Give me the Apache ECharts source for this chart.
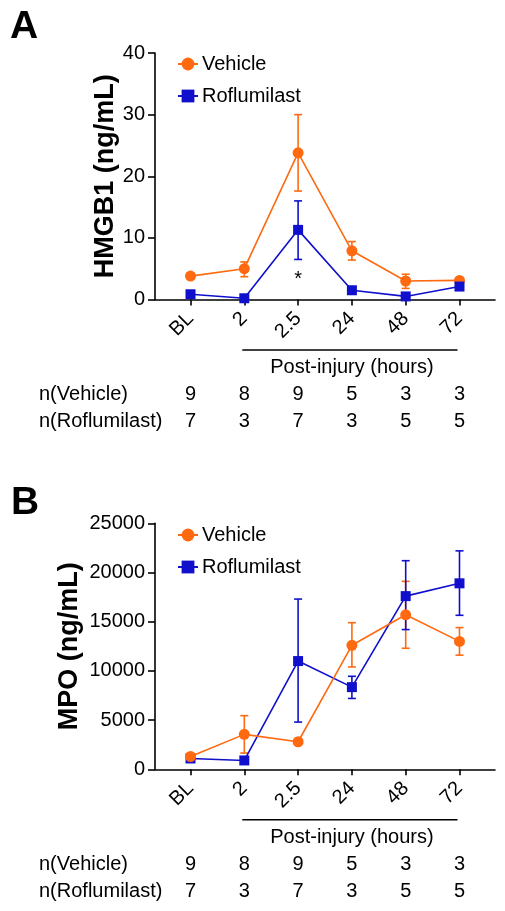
<!DOCTYPE html>
<html>
<head>
<meta charset="utf-8">
<script src="https://cdn.jsdelivr.net/npm/echarts@6/dist/echarts.min.js"></script>
<style>
  html, body { margin: 0; padding: 0; background: #fff; }
  #chart { width: 505px; height: 911px; }
</style>
</head>
<body>
<div id="chart"></div>
<script>
// time points and group sizes
var timepoints = ['BL', '2', '2.5', '24', '48', '72'];
var nVehicle = [9, 8, 9, 5, 3, 3];
var nRoflumilast = [7, 3, 7, 3, 5, 5];

// panel A - HMGB1 (ng/mL), mean and error bar ends
var hmgbVehicle = [3.8, 5.0, 23.8, 7.9, 3.0, 3.1];
var hmgbVehicleLo = [3.4, 3.7, 17.6, 6.4, 1.8, 2.8];
var hmgbVehicleHi = [4.2, 6.1, 30.0, 9.4, 4.1, 3.4];
var hmgbRof = [0.85, 0.2, 11.3, 1.5, 0.5, 2.1];
var hmgbRofLo = [0.55, 0.0, 6.5, 1.2, 0.2, 1.8];
var hmgbRofHi = [1.15, 0.4, 16.0, 1.8, 0.8, 2.4];
var hmgbSignificant = [2];

// panel B - MPO (ng/mL)
var mpoVehicle = [1300, 3550, 2800, 12600, 15700, 13000];
var mpoVehicleLo = [1100, 1650, 2500, 10400, 12300, 11600];
var mpoVehicleHi = [1500, 5450, 3100, 14900, 19100, 14400];
var mpoRof = [1100, 900, 11000, 8350, 17600, 18900];
var mpoRofLo = [900, 700, 4800, 7200, 14200, 15650];
var mpoRofHi = [1300, 1100, 17300, 9450, 21200, 22200];

var FONT = 'Liberation Sans, Arial, sans-serif';
var ORANGE = '#ff6a10';
var BLUE = '#1010cc';
var tickIdx = timepoints.map(function (t, i) { return i; });

function pts(arr) {
    return arr.map(function (v, i) { return [i, v]; });
}
function errs(lo, hi) {
    return lo.map(function (v, i) { return [i, lo[i], hi[i]]; });
}

function errorBarItem(color) {
    return function (params, api) {
        var lo = api.coord([api.value(0), api.value(1)]);
        var hi = api.coord([api.value(0), api.value(2)]);
        var w = 4;
        var st = {stroke: color, lineWidth: 1.6};
        return {
            type: 'group',
            children: [
                {type: 'line', shape: {x1: lo[0], y1: lo[1], x2: hi[0], y2: hi[1]}, style: st},
                {type: 'line', shape: {x1: lo[0] - w, y1: lo[1], x2: lo[0] + w, y2: lo[1]}, style: st},
                {type: 'line', shape: {x1: hi[0] - w, y1: hi[1], x2: hi[0] + w, y2: hi[1]}, style: st}
            ]
        };
    };
}

// bracket, "Post-injury" and the n table under each x axis
function tableItem(params, api) {
    var i = api.value(0);
    var p = api.coord([i, 0]);
    var txt = {fill: '#000', font: '20px ' + FONT, align: 'center', verticalAlign: 'middle'};
    var kids = [
        {type: 'text', style: Object.assign({}, txt, {text: String(api.value(1)), x: p[0], y: p[1] + 95})},
        {type: 'text', style: Object.assign({}, txt, {text: String(api.value(2)), x: p[0], y: p[1] + 122})}
    ];
    if (i === 0) {
        var a = api.coord([1, 0]);
        var b = api.coord([5, 0]);
        var left = Object.assign({}, txt, {align: 'left'});
        kids.push(
            {type: 'line', shape: {x1: a[0] - 2, y1: a[1] + 50.5, x2: b[0] - 2, y2: b[1] + 50.5},
                style: {stroke: '#000', lineWidth: 1.6}},
            {type: 'text', style: Object.assign({}, txt, {text: 'Post-injury (hours)', x: (a[0] + b[0]) / 2, y: a[1] + 68})},
            {type: 'text', style: Object.assign({}, left, {text: 'n(Vehicle)', x: 39, y: p[1] + 95})},
            {type: 'text', style: Object.assign({}, left, {text: 'n(Roflumilast)', x: 39, y: p[1] + 122})}
        );
    }
    return {type: 'group', children: kids};
}

function starItem(params, api) {
    var p = api.coord([api.value(0), api.value(1)]);
    return {type: 'text', style: {text: '*', x: p[0], y: p[1] + 20, fill: '#000',
        font: '20px ' + FONT, align: 'center', verticalAlign: 'middle'}};
}

function xAxisFor(gridIndex) {
    return {
        type: 'value', gridIndex: gridIndex, min: -0.66, max: 5.66,
        splitLine: {show: false},
        axisLine: {onZero: false, lineStyle: {color: '#000', width: 1.6}},
        axisTick: {customValues: tickIdx, length: 6, lineStyle: {color: '#000', width: 1.6}},
        axisLabel: {
            customValues: tickIdx, rotate: 45, margin: 16, color: '#000',
            fontFamily: FONT, fontSize: 20,
            formatter: function (v) { return timepoints[Math.round(v)]; }
        }
    };
}

function yAxisFor(gridIndex, name, max, interval, gap) {
    return {
        type: 'value', gridIndex: gridIndex, min: 0, max: max, interval: interval,
        name: name, nameLocation: 'middle', nameGap: gap, nameMoveOverlap: false,
        nameTextStyle: {fontFamily: FONT, fontSize: 27, fontWeight: 'bold', color: '#000'},
        splitLine: {show: false},
        axisLine: {show: true, onZero: false, lineStyle: {color: '#000', width: 1.6}},
        axisTick: {show: true, length: 7, lineStyle: {color: '#000', width: 1.6}},
        axisLabel: {margin: 10, color: '#000', fontFamily: FONT, fontSize: 20,
            formatter: function (v) { return String(v); }}
    };
}

function lineSeries(name, data, idx, color, symbol, size, z) {
    return {
        name: name, type: 'line', xAxisIndex: idx, yAxisIndex: idx,
        data: pts(data), symbol: symbol, symbolSize: size, z: z,
        itemStyle: {color: color}, lineStyle: {color: color, width: 1.6}
    };
}

function errSeries(lo, hi, idx, color) {
    return {
        type: 'custom', xAxisIndex: idx, yAxisIndex: idx, clip: false, z: 1,
        renderItem: errorBarItem(color), data: errs(lo, hi)
    };
}

function legendFor(top) {
    return {
        orient: 'vertical', left: 172, top: top, itemWidth: 20, itemHeight: 16, itemGap: 12,
        data: ['Vehicle', 'Roflumilast'],
        textStyle: {fontFamily: FONT, fontSize: 20, color: '#000', lineHeight: 20, padding: [0, 0, 0, -1]}
    };
}

var tableData = timepoints.map(function (t, i) { return [i, nVehicle[i], nRoflumilast[i]]; });

var myChart = echarts.init(document.getElementById('chart'));
myChart.setOption({
    animation: false,
    backgroundColor: '#fff',
    grid: [
        {left: 155, top: 53, width: 340, height: 246.5},
        {left: 155, top: 523.3, width: 340, height: 246}
    ],
    xAxis: [xAxisFor(0), xAxisFor(1)],
    yAxis: [
        yAxisFor(0, 'HMGB1 (ng/mL)', 40, 10, 36),
        yAxisFor(1, 'MPO (ng/mL)', 25000, 5000, 72)
    ],
    legend: [legendFor(49), legendFor(520)],
    graphic: [
        {type: 'text', left: 10, top: 8, style: {text: 'A', font: 'bold 39px ' + FONT, fill: '#000'}},
        {type: 'text', left: 11, top: 484, style: {text: 'B', font: 'bold 39px ' + FONT, fill: '#000'}}
    ],
    series: [
        errSeries(hmgbVehicleLo, hmgbVehicleHi, 0, ORANGE),
        errSeries(hmgbRofLo, hmgbRofHi, 0, BLUE),
        lineSeries('Vehicle', hmgbVehicle, 0, ORANGE, 'circle', 11, 3),
        lineSeries('Roflumilast', hmgbRof, 0, BLUE, 'rect', 10, 4),
        {
            type: 'custom', xAxisIndex: 0, yAxisIndex: 0, clip: false,
            renderItem: starItem,
            data: hmgbSignificant.map(function (i) { return [i, hmgbRofLo[i]]; })
        },
        {type: 'custom', xAxisIndex: 0, yAxisIndex: 0, clip: false, renderItem: tableItem, data: tableData},

        errSeries(mpoVehicleLo, mpoVehicleHi, 1, ORANGE),
        errSeries(mpoRofLo, mpoRofHi, 1, BLUE),
        lineSeries('Roflumilast', mpoRof, 1, BLUE, 'rect', 10, 3),
        lineSeries('Vehicle', mpoVehicle, 1, ORANGE, 'circle', 11, 4),
        {type: 'custom', xAxisIndex: 1, yAxisIndex: 1, clip: false, renderItem: tableItem, data: tableData}
    ]
});
</script>
</body>
</html>
